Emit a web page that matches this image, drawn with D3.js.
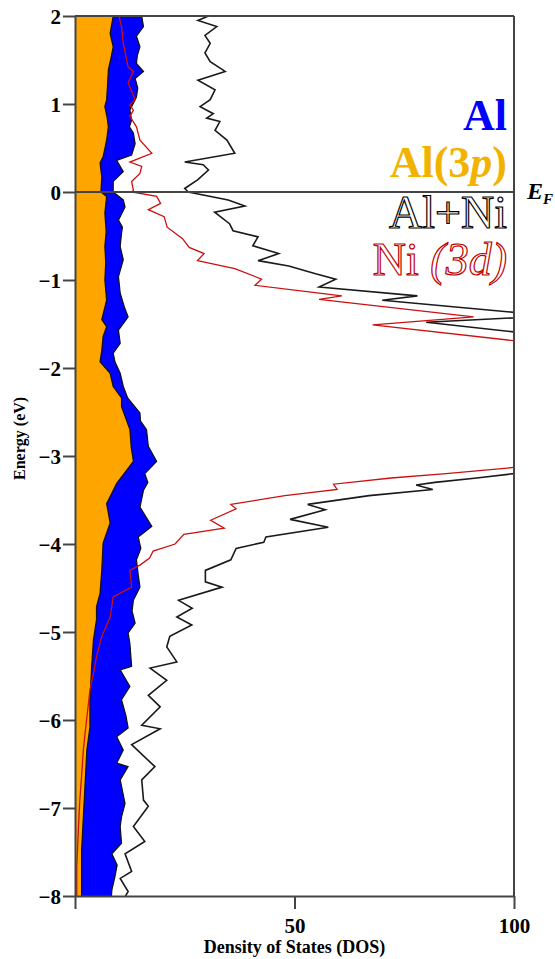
<!DOCTYPE html>
<html>
<head>
<meta charset="utf-8">
<script src="https://cdn.jsdelivr.net/npm/d3@7"></script>
<style>
  body { margin: 0; background: #fff; }
  svg { display: block; }
  text { font-family: "Liberation Serif", "Times New Roman", serif; }
</style>
</head>
<body>
<div id="chart"></div>
<script>
// DATA: [energy (eV), DOS], top to bottom
const alTotal = [
  [2.0,15.2],[1.88,15.6],[1.77,14.0],[1.65,14.8],[1.55,14.2],[1.46,14.0],[1.37,15.6],[1.29,13.7],
  [1.18,14.3],[1.08,14.0],[0.93,12.5],[0.82,12.9],[0.74,12.4],[0.67,13.3],[0.55,13.7],[0.42,12.9],
  [0.36,9.5],[0.23,11.0],[0.12,8.7],[0.0,8.7],[-0.09,11.0],[-0.17,11.4],[-0.32,9.9],[-0.4,10.8],
  [-0.47,10.6],[-0.62,10.3],[-0.77,11.0],[-0.96,9.9],[-1.15,10.3],[-1.3,11.2],[-1.42,12.1],[-1.57,9.9],
  [-1.72,10.3],[-1.83,8.7],[-1.93,9.1],[-2.06,10.3],[-2.21,11.0],[-2.34,12.0],[-2.51,14.8],[-2.6,14.9],
  [-2.7,16.3],[-2.89,16.7],[-3.06,18.6],[-3.2,15.9],[-3.3,16.6],[-3.39,15.6],[-3.58,14.8],[-3.8,17.5],
  [-3.92,14.4],[-4.05,15.0],[-4.18,14.0],[-4.35,14.4],[-4.49,14.8],[-4.64,13.3],[-4.76,13.0],[-4.9,13.7],
  [-5.01,12.1],[-5.13,12.5],[-5.39,12.9],[-5.43,10.3],[-5.62,12.5],[-5.77,10.6],[-5.95,11.6],[-6.09,12.1],
  [-6.19,9.5],[-6.34,11.0],[-6.49,9.5],[-6.53,12.1],[-6.68,10.3],[-6.95,11.4],[-7.1,10.6],[-7.21,10.3],
  [-7.4,10.6],[-7.52,8.4],[-7.65,9.6],[-7.78,9.1],[-7.93,8.4],[-8.0,8.3]
];

const al3p = [
  [2.0,8.7],[1.8,8.0],[1.65,8.7],[1.5,8.1],[1.39,7.6],[1.2,7.4],[1.05,7.2],[0.97,6.8],[0.85,7.3],
  [0.74,7.6],[0.59,7.2],[0.4,6.4],[0.33,5.7],[0.17,6.1],[0.0,5.9],[-0.05,7.2],[-0.24,6.8],[-0.45,7.1],
  [-0.62,6.8],[-0.8,7.0],[-1.0,6.8],[-1.23,7.2],[-1.45,6.1],[-1.53,7.2],[-1.64,6.4],[-1.8,6.1],
  [-1.93,5.7],[-2.06,8.0],[-2.21,8.7],[-2.34,10.6],[-2.44,10.6],[-2.7,12.5],[-2.9,12.8],[-3.06,13.3],
  [-3.31,9.5],[-3.54,7.2],[-3.76,8.0],[-3.99,6.4],[-4.3,6.1],[-4.56,5.7],[-4.71,4.9],[-4.86,4.9],
  [-5.09,4.2],[-5.39,3.8],[-5.77,3.4],[-6.08,3.4],[-6.34,2.7],[-6.72,2.3],[-7.1,1.9],[-7.48,1.5],[-8.0,1.5]
];

const alNi = [
  [2.0,30.4],[1.95,28.0],[1.88,32.3],[1.78,29.6],[1.69,30.8],[1.58,29.6],[1.48,30.8],[1.37,34.2],
  [1.27,28.0],[1.16,31.9],[1.05,30.8],[0.97,28.5],[0.89,31.5],[0.84,30.0],[0.8,33.0],[0.7,31.9],
  [0.59,34.6],[0.44,36.4],[0.34,25.0],[0.31,29.2],[0.25,30.4],[0.14,28.0],[0.04,25.0],[0.0,25.8],
  [-0.09,34.9],[-0.16,38.7],[-0.23,31.8],[-0.36,35.2],[-0.44,36.0],[-0.51,41.7],[-0.61,40.5],
  [-0.7,46.4],[-0.78,41.7],[-0.84,48.7],[-0.93,54.8],[-0.99,59.4],[-1.08,55.6],[-1.18,78.0],
  [-1.23,70.0],[-1.37,100.5],[-1.40,104],[-1.43,100],[-1.48,80],[-1.59,100],[-1.65,115],
  [-2.0,160],[-2.5,190],[-3.0,150],[-3.15,110],[-3.2,100],[-3.25,91.5],[-3.3,82],[-3.33,77.7],
  [-3.38,81.5],[-3.45,67],[-3.55,53],[-3.61,57],[-3.72,49],[-3.81,57.7],[-3.92,43.5],[-3.98,43],
  [-4.05,36.7],[-4.18,35.5],[-4.3,29.7],[-4.43,29.7],[-4.49,33.5],[-4.64,23.6],[-4.73,26.7],
  [-4.83,23.2],[-4.92,26.6],[-5.05,21.6],[-5.17,20.9],[-5.34,23.2],[-5.41,17.1],[-5.55,20.9],
  [-5.72,16.7],[-5.85,19.4],[-6.06,15.2],[-6.1,19.4],[-6.28,12.9],[-6.53,18.2],[-6.68,15.2],
  [-6.91,15.6],[-6.98,16.7],[-7.21,13.3],[-7.38,15.9],[-7.52,11.4],[-7.72,12.9],[-7.8,10.3],
  [-7.95,12.1],[-8.0,11.5]
];

const ni3d = [
  [2.0,10.0],[1.88,10.6],[1.69,11.0],[1.42,12.1],[1.37,13.3],[1.24,12.1],[1.05,13.7],[0.99,12.5],
  [0.93,13.3],[0.86,12.5],[0.74,14.0],[0.59,14.8],[0.44,17.5],[0.34,12.5],[0.29,15.2],[0.21,14.8],
  [0.12,12.9],[0.02,13.3],[0.0,13.0],[-0.05,18.6],[-0.13,19.5],[-0.2,16.7],[-0.28,20.3],[-0.4,21.0],
  [-0.53,24.5],[-0.63,26.0],[-0.7,29.4],[-0.78,27.9],[-0.87,36.4],[-0.99,42.5],[-1.06,41.0],
  [-1.15,55.6],[-1.18,60.8],[-1.22,55.6],[-1.42,90.8],[-1.51,67.8],[-1.69,100],[-1.8,120],
  [-2.0,150],[-2.5,180],[-3.0,140],[-3.13,100],[-3.2,84.5],[-3.25,72],[-3.32,58.9],[-3.38,59.7],
  [-3.45,47.8],[-3.55,35.5],[-3.6,36.7],[-3.73,30.9],[-3.82,34.0],[-3.89,24.8],[-4.0,22.8],
  [-4.08,17.8],[-4.16,17.0],[-4.24,14.8],[-4.3,12.5],[-4.49,12.9],[-4.6,8.7],[-4.83,8.0],
  [-5.05,6.1],[-5.28,4.9],[-5.47,4.2],[-5.66,3.4],[-6.15,2.3],[-6.34,1.9],[-6.64,1.5],[-6.91,1.1],
  [-7.21,0.8],[-7.67,0.4],[-8.0,0.4]
];

const energyTicks = [2, 1, 0, -1, -2, -3, -4, -5, -6, -7, -8];
const dosTicks = [0, 50, 100];

// LAYOUT
const W = 555, H = 959;
const margin = { top: 16, right: 41, bottom: 63, left: 75 };
const width = W - margin.left - margin.right;
const height = H - margin.top - margin.bottom;

const svg = d3.select("#chart").append("svg")
    .attr("width", W)
    .attr("height", H);

const g = svg.append("g")
    .attr("transform", `translate(${margin.left},${margin.top})`);

const x = d3.scaleLinear().domain([0, 100]).range([0, width]);
const y = d3.scaleLinear().domain([-8, 2]).range([height, 0]);

g.append("clipPath").attr("id", "plotClip")
  .append("rect").attr("width", width).attr("height", height);

const plot = g.append("g").attr("clip-path", "url(#plotClip)");

const area = d3.area()
    .y(d => y(d[0]))
    .x0(x(0))
    .x1(d => x(d[1]));

const edge = d3.line()
    .x(d => x(d[1]))
    .y(d => y(d[0]));

// filled Al total then Al(3p)
plot.append("path").datum(alTotal).attr("d", area).attr("fill", "#0000ff");
plot.append("path").datum(alTotal).attr("d", edge)
    .attr("fill", "none").attr("stroke", "#111").attr("stroke-width", 1.2);

plot.append("path").datum(al3p).attr("d", area).attr("fill", "#ffa500");
plot.append("path").datum(al3p).attr("d", edge)
    .attr("fill", "none").attr("stroke", "#111").attr("stroke-width", 1.2);

// lines
plot.append("path").datum(alNi).attr("d", edge)
    .attr("fill", "none").attr("stroke", "#1a1a1a").attr("stroke-width", 1.6);
plot.append("path").datum(ni3d).attr("d", edge)
    .attr("fill", "none").attr("stroke", "#cc1010").attr("stroke-width", 1.3);

// Fermi level
g.append("line")
    .attr("x1", 0).attr("x2", width)
    .attr("y1", y(0)).attr("y2", y(0))
    .attr("stroke", "#444").attr("stroke-width", 2);

// frame: top and right
g.append("line").attr("x1", 0).attr("x2", width).attr("y1", 0).attr("y2", 0)
    .attr("stroke", "#444").attr("stroke-width", 2);
g.append("line").attr("x1", width).attr("x2", width).attr("y1", 0).attr("y2", height)
    .attr("stroke", "#444").attr("stroke-width", 2);

// axes
const yAxis = g.append("g")
    .call(d3.axisLeft(y).tickValues(energyTicks).tickSize(12).tickSizeOuter(0).tickPadding(2));
const xAxis = g.append("g")
    .attr("transform", `translate(0,${height})`)
    .call(d3.axisBottom(x).tickValues(dosTicks).tickSize(13).tickSizeOuter(0).tickPadding(9)
      .tickFormat(d => d === 0 ? "" : d));

[yAxis, xAxis].forEach(ax => {
  ax.selectAll("path, line").attr("stroke", "#444").attr("stroke-width", 2);
  ax.selectAll("text")
    .attr("fill", "#000")
    .style("font-family", "'Liberation Serif', 'Times New Roman', serif")
    .style("font-weight", "bold")
    .style("font-size", "21px");
});
yAxis.selectAll("text").attr("dy", "0.34em");

// axis titles
svg.append("text")
    .attr("transform", `translate(25,${margin.top + y(-2.8)}) rotate(-90)`)
    .attr("text-anchor", "middle")
    .style("font-weight", "bold").style("font-size", "16px")
    .text("Energy (eV)");

svg.append("text")
    .attr("x", margin.left + x(50)).attr("y", 953)
    .attr("text-anchor", "middle")
    .style("font-weight", "bold").style("font-size", "18px")
    .text("Density of States (DOS)");

// E_F label
const ef = svg.append("text")
    .attr("x", 527).attr("y", 199)
    .style("font-weight", "bold").style("font-style", "italic").style("font-size", "24px")
    .text("E");
ef.append("tspan").attr("dy", 5).style("font-size", "15px").text("F");

// legend labels
const lx = 507;
svg.append("text").attr("x", lx).attr("y", 130).attr("text-anchor", "end")
    .attr("fill", "#0000ff").style("font-weight", "bold").style("font-size", "44px")
    .text("Al");

const t2 = svg.append("text").attr("x", lx).attr("y", 177).attr("text-anchor", "end")
    .attr("fill", "#f2b300").style("font-weight", "bold").style("font-size", "44px");
t2.append("tspan").text("Al(3");
t2.append("tspan").style("font-style", "italic").text("p");
t2.append("tspan").text(")");

svg.append("text").attr("x", lx).attr("y", 228).attr("text-anchor", "end")
    .attr("fill", "#fff").attr("stroke", "#000").attr("stroke-width", 1.2)
    .style("font-size", "46px")
    .text("Al+Ni");

const t4 = svg.append("text").attr("x", lx).attr("y", 275).attr("text-anchor", "end")
    .attr("fill", "#fff").attr("stroke", "#c00000").attr("stroke-width", 1.2)
    .style("font-size", "46px");
t4.append("tspan").text("Ni ");
t4.append("tspan").style("font-style", "italic").text("(3d)");
</script>
</body>
</html>
